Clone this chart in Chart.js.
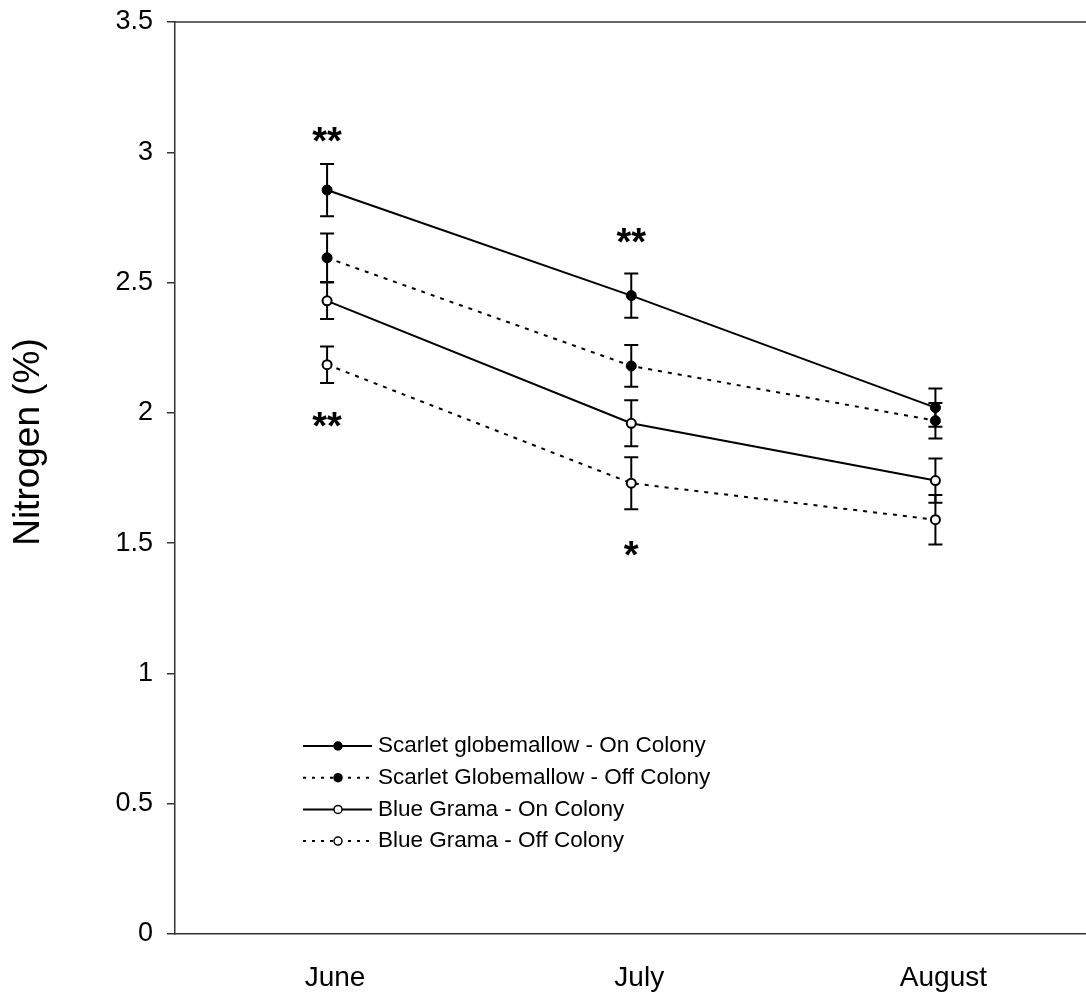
<!DOCTYPE html>
<html>
<head>
<meta charset="utf-8">
<script src="https://cdn.jsdelivr.net/npm/chart.js@4.4.1/dist/chart.umd.min.js"></script>
<style>
  html, body { margin: 0; padding: 0; background: #fff; overflow: hidden; }
  /* a little wider than the window so the plot frame runs off the right edge */
  #wrap { width: 1094px; height: 1000px; }
</style>
</head>
<body>
<div id="wrap"><canvas id="nitrogenChart"></canvas></div>
<script>
// Leaf nitrogen by month, on vs off prairie dog colony
const months = ["June", "July", "August"];

const sgOn = [2.855, 2.45, 2.02];
const sgOnErr = [0.1, 0.085, 0.073];
const sgOff = [2.595, 2.18, 1.97];
const sgOffErr = [0.093, 0.08, 0.068];
const bgOn = [2.43, 1.96, 1.74];
const bgOnErr = [0.07, 0.088, 0.085];
const bgOff = [2.185, 1.73, 1.59];
const bgOffErr = [0.07, 0.1, 0.095];

// significance marks: text, month, y value of the mark
const sigText = ["**", "**", "**", "*"];
const sigMonth = ["June", "June", "July", "July"];
const sigY = [3.06, 1.965, 2.67, 1.47];

const yTicks = [0, 0.5, 1, 1.5, 2, 2.5, 3, 3.5];

const FONT = "'Liberation Sans', Arial, sans-serif";
const DOTS = [4, 6];

function series(label, values, errors, filled, dashed) {
  return {
    label,
    data: values,
    errors,
    borderColor: "#000",
    borderWidth: 2,
    borderDash: dashed ? DOTS : [],
    pointRadius: filled ? 5 : 4.5,
    pointHoverRadius: filled ? 5 : 4.5,
    pointBackgroundColor: filled ? "#000" : "#fff",
    pointBorderColor: "#000",
    pointBorderWidth: filled ? 1 : 2,
    tension: 0,
    fill: false,
  };
}

const errorBars = {
  id: "errorBars",
  beforeDatasetsDraw(chart) {
    const { ctx, scales: { x, y } } = chart;
    ctx.save();
    ctx.strokeStyle = "#000";
    ctx.lineWidth = 2;
    chart.data.datasets.forEach((ds) => {
      ds.data.forEach((v, i) => {
        const px = x.getPixelForValue(i);
        const top = y.getPixelForValue(v + ds.errors[i]);
        const bot = y.getPixelForValue(v - ds.errors[i]);
        ctx.beginPath();
        ctx.moveTo(px, top); ctx.lineTo(px, bot);
        ctx.moveTo(px - 7, top); ctx.lineTo(px + 7, top);
        ctx.moveTo(px - 7, bot); ctx.lineTo(px + 7, bot);
        ctx.stroke();
      });
    });
    ctx.restore();
  },
};

const extras = {
  id: "extras",
  afterDatasetsDraw(chart) {
    const { ctx, chartArea, scales: { x, y } } = chart;
    ctx.save();

    // top frame line
    ctx.strokeStyle = "#333";
    ctx.lineWidth = 1.5;
    ctx.beginPath();
    ctx.moveTo(chartArea.left, chartArea.top);
    ctx.lineTo(chartArea.right, chartArea.top);
    ctx.stroke();

    // significance asterisks
    const starSize = 38;
    ctx.fillStyle = "#000";
    ctx.font = "bold " + starSize + "px " + FONT;
    ctx.textAlign = "center";
    ctx.textBaseline = "alphabetic";
    sigText.forEach((t, i) => {
      const px = x.getPixelForValue(months.indexOf(sigMonth[i]));
      const py = y.getPixelForValue(sigY[i]);
      ctx.fillText(t, px, py + starSize * 0.45);
    });

    // y axis title
    ctx.font = "37px " + FONT;
    ctx.textBaseline = "middle";
    ctx.translate(29, 442);
    ctx.rotate(-Math.PI / 2);
    ctx.fillText("Nitrogen (%)", 0, 0);
    ctx.restore();

    // legend
    ctx.save();
    ctx.font = "22.5px " + FONT;
    ctx.textAlign = "left";
    ctx.textBaseline = "middle";
    chart.data.datasets.forEach((ds, i) => {
      const ly = 746 + i * 31.7;
      ctx.strokeStyle = "#000";
      ctx.lineWidth = 2;
      ctx.setLineDash(ds.borderDash.length ? [3, 6] : []);
      ctx.beginPath();
      ctx.moveTo(303, ly);
      ctx.lineTo(372, ly);
      ctx.stroke();
      ctx.setLineDash([]);
      ctx.beginPath();
      ctx.arc(338, ly, 4, 0, Math.PI * 2);
      ctx.fillStyle = ds.pointBackgroundColor;
      ctx.fill();
      ctx.lineWidth = 1.5;
      ctx.stroke();
      ctx.fillStyle = "#000";
      ctx.fillText(ds.label, 378, ly);
    });
    ctx.restore();
  },
};

new Chart(document.getElementById("nitrogenChart"), {
  type: "line",
  data: {
    labels: months,
    datasets: [
      series("Scarlet globemallow - On Colony", sgOn, sgOnErr, true, false),
      series("Scarlet Globemallow - Off Colony", sgOff, sgOffErr, true, true),
      series("Blue Grama - On Colony", bgOn, bgOnErr, false, false),
      series("Blue Grama - Off Colony", bgOff, bgOffErr, false, true),
    ],
  },
  options: {
    responsive: true,
    maintainAspectRatio: false,
    animation: false,
    layout: { padding: { top: 22, right: 0, bottom: 0, left: 0 } },
    plugins: { legend: { display: false }, tooltip: { enabled: false } },
    scales: {
      x: {
        offset: true,
        grid: { display: false },
        border: { display: true, color: "#333", width: 1.5 },
        ticks: { color: "#000", font: { family: FONT, size: 28 }, padding: 19, labelOffset: 8 },
        afterFit(scale) { scale.height = 66; },
      },
      y: {
        min: 0,
        max: 3.5,
        afterBuildTicks(scale) { scale.ticks = yTicks.map((v) => ({ value: v })); },
        grid: { display: true, drawOnChartArea: false, drawTicks: true, tickLength: 8, color: "#333", lineWidth: 1.5 },
        border: { display: true, color: "#333", width: 1.5 },
        // small lineHeight keeps the top label from pushing the plot down
        ticks: { color: "#000", font: { family: FONT, size: 27, lineHeight: 0.5 }, padding: 14, callback: (v) => String(v) },
        afterFit(scale) { scale.width = 175; },
      },
    },
  },
  plugins: [errorBars, extras],
});
</script>
</body>
</html>
